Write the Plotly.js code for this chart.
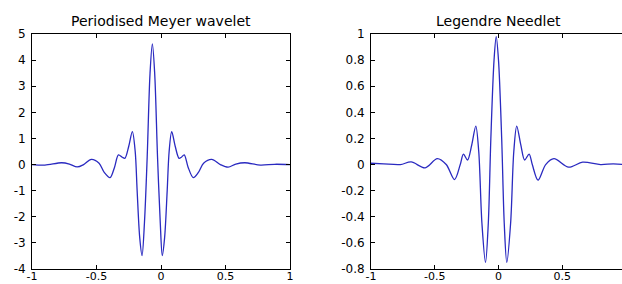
<!DOCTYPE html>
<html>
<head>
<meta charset="utf-8">
<script src="https://cdn.plot.ly/plotly-3.0.1.min.js"></script>
<style>
  html, body { margin: 0; padding: 0; overflow: hidden; background: #fff; }
  #chart { width: 640px; height: 284px; }
</style>
</head>
<body>
<div id="chart"></div>
<script>
// ---- data ----
const titleLeft = "Periodised Meyer wavelet";
const titleRight = "Legendre Needlet";

const xMeyer = [-1, -0.9, -0.77, -0.71, -0.65, -0.6, -0.54, -0.48, -0.44, -0.395, -0.36, -0.33, -0.30, -0.28, -0.25, -0.222, -0.20, -0.185, -0.165, -0.147, -0.128, -0.107, -0.085, -0.067, -0.049, -0.027, -0.006, 0.01, 0.028, 0.048, 0.063, 0.083, 0.11, 0.14, 0.158, 0.18, 0.21, 0.25, 0.29, 0.33, 0.393, 0.46, 0.52, 0.58, 0.65, 0.77, 0.88, 1];
const yMeyer = [0.0, -0.02, 0.07, 0.02, -0.09, 0.0, 0.2, 0.05, -0.3, -0.5, -0.1, 0.37, 0.28, 0.24, 0.7, 1.26, 0.5, -1.0, -2.8, -3.49, -2.2, 0.3, 3.5, 4.62, 3.5, 0.3, -2.2, -3.49, -2.8, -1.0, 0.5, 1.26, 0.7, 0.24, 0.28, 0.37, -0.1, -0.5, -0.3, 0.05, 0.2, 0.0, -0.1, 0.02, 0.07, -0.02, 0.01, 0.0];

const xNeedlet = [-1, -0.9, -0.77, -0.685, -0.575, -0.48, -0.41, -0.345, -0.30, -0.275, -0.243, -0.21, -0.178, -0.155, -0.13, -0.102, -0.08, -0.06, -0.035, -0.018, 0.0, 0.025, 0.045, 0.065, 0.095, 0.12, 0.143, 0.175, 0.205, 0.24, 0.265, 0.31, 0.37, 0.435, 0.55, 0.66, 0.8, 0.9, 1.0];
const yNeedlet = [0.01, 0.005, 0.0, 0.02, -0.025, 0.045, 0.0, -0.115, 0.0, 0.08, 0.035, 0.15, 0.295, 0.1, -0.45, -0.75, -0.45, 0.2, 0.8, 0.98, 0.8, 0.2, -0.45, -0.75, -0.45, 0.1, 0.295, 0.15, 0.035, 0.08, 0.0, -0.12, 0.0, 0.045, -0.02, 0.018, 0.0, 0.005, 0.0];

const xTicksVals = [-1, -0.5, 0, 0.5, 1];
const xTicksText = ["-1", "-0.5", "0", "0.5", "1"];
const yLeftVals = [-4, -3, -2, -1, 0, 1, 2, 3, 4, 5];
const yLeftText = ["-4", "-3", "-2", "-1", "0", "1", "2", "3", "4", "5"];
const yRightVals = [-0.8, -0.6, -0.4, -0.2, 0, 0.2, 0.4, 0.6, 0.8, 1];
const yRightText = ["-0.8", "-0.6", "-0.4", "-0.2", "0", "0.2", "0.4", "0.6", "0.8", "1"];

// ---- drawing ----
const W = 640, H = 284;
const lineColor = "#2a2ac0";
const fontFam = "DejaVu Sans, Liberation Sans, Arial, sans-serif";
const tickFont = { family: fontFam, size: 12, color: "#000" };
const xTickFont = { family: fontFam, size: 11, color: "#000" };

function axisCommon(extra) {
  return Object.assign({
    showline: true, linecolor: "#000", linewidth: 1, mirror: "ticks",
    ticks: "inside", ticklen: 4, tickwidth: 1, tickcolor: "#000",
    showgrid: false, zeroline: false, tickfont: tickFont, automargin: false,
    tickmode: "array", fixedrange: true
  }, extra);
}

const traces = [
  { x: xMeyer, y: yMeyer, type: "scatter", mode: "lines", xaxis: "x", yaxis: "y",
    line: { color: lineColor, width: 1.3, shape: "spline", smoothing: 0.9 }, hoverinfo: "skip" },
  { x: xNeedlet, y: yNeedlet, type: "scatter", mode: "lines", xaxis: "x2", yaxis: "y2",
    line: { color: lineColor, width: 1.3, shape: "spline", smoothing: 0.9 }, hoverinfo: "skip" }
];

const layout = {
  width: W, height: H,
  margin: { l: 0, r: 0, t: 34, b: 15, pad: 0 },
  paper_bgcolor: "#fff", plot_bgcolor: "#fff",
  showlegend: false,
  xaxis: axisCommon({ domain: [32 / W, 290 / W], range: [-1, 1], tickvals: xTicksVals, ticktext: xTicksText, anchor: "y", tickfont: xTickFont, ticklabelstandoff: -3 }),
  yaxis: axisCommon({ domain: [0, 1], range: [-4, 5], tickvals: yLeftVals, ticktext: yLeftText, anchor: "x", ticklabelstandoff: 3 }),
  xaxis2: axisCommon({ domain: [371 / W, 626 / W], range: [-1, 1], tickvals: xTicksVals.slice(0, 4), ticktext: xTicksText.slice(0, 4), anchor: "y2", tickfont: xTickFont, ticklabelstandoff: -3 }),
  yaxis2: axisCommon({ domain: [0, 1], range: [-0.8, 1], tickvals: yRightVals, ticktext: yRightText, anchor: "x2", ticklabelstandoff: 3 }),
  annotations: [
    { text: titleLeft, xref: "paper", yref: "paper", x: 161 / W, y: (269 - 21) / 235, showarrow: false,
      xanchor: "center", yanchor: "middle", font: { family: fontFam, size: 14, color: "#000" } },
    { text: titleRight, xref: "paper", yref: "paper", x: 498 / W, y: (269 - 21) / 235, showarrow: false,
      xanchor: "center", yanchor: "middle", font: { family: fontFam, size: 14, color: "#000" } }
  ]
};

Plotly.newPlot("chart", traces, layout, { staticPlot: true, displayModeBar: false });
</script>
</body>
</html>
